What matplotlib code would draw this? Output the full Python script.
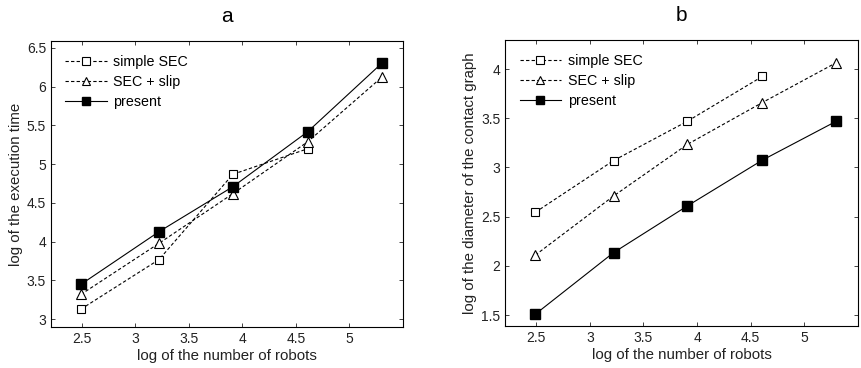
import matplotlib
matplotlib.use("Agg")
import matplotlib.pyplot as plt

plt.rcParams['font.family'] = ['Liberation Sans', 'DejaVu Sans']

x_all = [2.49, 3.22, 3.91, 4.61, 5.30]
x_simple = [2.49, 3.22, 3.91, 4.61]

# panel a: log of execution time
a_simple = [3.13, 3.77, 4.87, 5.20]
a_slip = [3.32, 3.98, 4.62, 5.29, 6.12]
a_present = [3.45, 4.13, 4.71, 5.42, 6.30]

# panel b: log of diameter of contact graph
b_simple = [2.545, 3.07, 3.47, 3.925]
b_slip = [2.11, 2.71, 3.235, 3.66, 4.065]
b_present = [1.51, 2.135, 2.61, 3.075, 3.47]

labels = ['simple SEC', 'SEC + slip', 'present']
xticks = [2.5, 3, 3.5, 4, 4.5, 5]
xtick_labels = ['2.5', '3', '3.5', '4', '4.5', '5']

fig = plt.figure(figsize=(8.61, 3.68), dpi=100)
axa = fig.add_axes([0.0592, 0.1114, 0.4088, 0.7772])
axb = fig.add_axes([0.5869, 0.1141, 0.4093, 0.7772])

dash = (0, (3, 2))
lw = 0.8
tc = '#222222'

def draw(ax, simple, slip, present):
    ax.plot(x_simple, simple, color='black', lw=lw, ls=dash, marker='s', ms=6,
            mfc='white', mec='black', mew=0.8, label=labels[0])
    ax.plot(x_all, slip, color='black', lw=lw, ls=dash, marker='^', ms=7,
            mfc='white', mec='black', mew=0.8, label=labels[1])
    ax.plot(x_all, present, color='black', lw=lw, ls='-', marker='s', ms=6.5,
            mfc='black', mec='black', label=labels[2])
    ax.set_xlim(2.21, 5.5)
    ax.set_xticks(xticks)
    ax.set_xticklabels(xtick_labels)
    ax.tick_params(direction='in', length=3, top=True, right=True, labelsize=10,
                   colors=tc, width=0.6)
    for s in ax.spines.values():
        s.set_linewidth(0.8)
    ax.set_xlabel('log of the number of robots', fontsize=10.8, labelpad=2, color=tc)
    ax.legend(loc='upper left', frameon=False, fontsize=10.3, numpoints=1,
              handlelength=2.9, handletextpad=0.45, labelspacing=0.4,
              borderaxespad=0.6, markerscale=0.9)

draw(axa, a_simple, a_slip, a_present)
axa.set_ylim(2.9, 6.59)
axa.set_yticks([3, 3.5, 4, 4.5, 5, 5.5, 6, 6.5])
axa.set_yticklabels(['3', '3.5', '4', '4.5', '5', '5.5', '6', '6.5'])
axa.set_ylabel('log of the execution time', fontsize=10.8, labelpad=3, color=tc)
axa.set_title('a', fontsize=15, pad=14)

draw(axb, b_simple, b_slip, b_present)
axb.set_ylim(1.39, 4.295)
axb.set_yticks([1.5, 2, 2.5, 3, 3.5, 4])
axb.set_yticklabels(['1.5', '2', '2.5', '3', '3.5', '4'])
axb.set_ylabel('log of the diameter of the contact graph', fontsize=10.8, labelpad=3, color=tc)
axb.set_title('b', fontsize=15, pad=14)

fig.savefig('out.png', dpi=100)
